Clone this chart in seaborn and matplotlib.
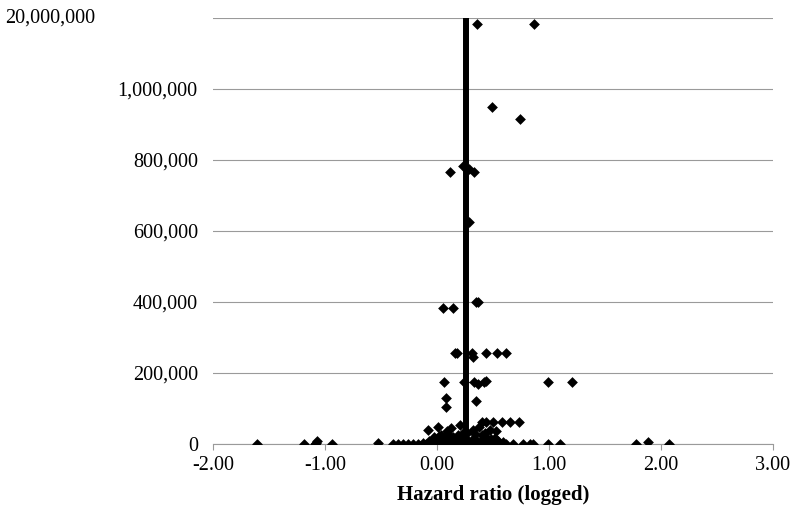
import matplotlib
matplotlib.use("Agg")
import matplotlib.pyplot as plt
import seaborn as sns
from matplotlib.ticker import FuncFormatter

# logged hazard ratio of each study
hazard_ratio = [
    # top of chart (axis break, ~20,000,000)
    0.36, 0.87,
    0.49, 0.74,
    0.115, 0.23, 0.285, 0.33,
    0.29,
    0.055, 0.14, 0.35, 0.37,
    0.16, 0.18, 0.31, 0.32, 0.44, 0.54, 0.62,
    0.06, 0.24, 0.33, 0.37, 0.42, 0.44, 0.99, 1.21,
    0.085, 0.077, 0.35,
    0.40, 0.44, 0.50, 0.58, 0.65, 0.73,
    -0.08, 0.01, 0.086, 0.13, 0.205, 0.235, 0.325, 0.38, 0.47, 0.53,
    0.52, -0.03, 0.04, 0.145, 0.40, 0.44,
    # left tail
    -1.61, -1.19, -1.09, -1.07, -1.08, -0.94, -0.53,
    -0.39, -0.35, -0.30, -0.26, -0.21, -0.17, -0.12,
    # dense cluster near zero
    -0.10, -0.06, -0.02, 0.02, 0.05, 0.08, 0.11, 0.14, 0.17, 0.20,
    0.23, 0.27, 0.30, 0.34, 0.37, 0.41, 0.45, 0.49, 0.53, 0.57,
    -0.07, -0.03, 0.00, 0.03, 0.07, 0.10, 0.13, 0.16, 0.19, 0.22,
    0.28, 0.31, 0.35, 0.39, 0.43, 0.47, 0.51, 0.55, 0.59,
    0.00, 0.06, 0.12, 0.18, 0.25, 0.33, 0.42, 0.48,
    -0.05, 0.04, 0.09, 0.15, 0.21, 0.29, 0.36, 0.45, 0.50,
    0.02, 0.10, 0.19, 0.27, 0.34, 0.43,
    # right tail
    0.62, 0.68, 0.77, 0.83, 0.855, 0.99, 1.10, 1.78, 1.89, 2.075,
]

# sample size (top points sit at the broken-axis position)
sample_size = [
    1183000, 1183000,
    950000, 915000,
    767000, 783000, 775000, 767000,
    626000,
    382000, 382000, 400000, 400000,
    255000, 255000, 255000, 246000, 255000, 255000, 255000,
    175000, 175000, 175000, 168000, 175000, 178000, 175000, 175000,
    130000, 105000, 122000,
    61000, 61000, 61000, 61000, 61000, 61000,
    39000, 49000, 37000, 44000, 53000, 30000, 39000, 49000, 39000, 35000,
    16000, 20000, 25000, 20000, 25000, 20000,
    0, 0, 0, 9000, 3000, 0, 3000,
    0, 0, 0, 0, 0, 0, 2000,
    0, 0, 0, 0, 0, 0, 0, 0, 0, 0,
    0, 0, 0, 0, 0, 0, 0, 0, 0, 0,
    8000, 6000, 9000, 7000, 10000, 8000, 12000, 6000, 9000, 11000,
    7000, 10000, 12000, 8000, 6000, 9000, 11000, 7000, 5000,
    15000, 14000, 17000, 13000, 16000, 14000, 12000, 15000,
    4000, 3000, 4000, 3000, 4000, 3000, 4000, 3000, 4000,
    22000, 28000, 24000, 30000, 27000, 31000,
    0, 0, 0, 0, 0, 0, 0, 0, 6000, 0,
]

pooled_hr = 0.26
x_ticks = [-2, -1, 0, 1, 2, 3]
y_ticks = [0, 200000, 400000, 600000, 800000, 1000000, 1200000]
top_label = "20,000,000"

fig = plt.figure(figsize=(7.95, 5.12), dpi=100)
ax = fig.add_axes([0.268, 0.133, 0.704, 0.832])

sns.scatterplot(x=hazard_ratio, y=sample_size, marker="D", color="black",
                s=30, linewidth=0, ax=ax, zorder=3)
ax.axvline(pooled_hr, color="black", lw=4.3, zorder=4)

ax.set_xlim(-2, 3)
ax.set_ylim(0, 1200000)
ax.set_xticks(x_ticks)
ax.set_yticks(y_ticks)
ax.xaxis.set_major_formatter(FuncFormatter(lambda v, p: f"{v:.2f}"))
ax.yaxis.set_major_formatter(
    FuncFormatter(lambda v, p: "" if v >= 1200000 else f"{int(v):,}"))

ax.grid(axis="y", color="#9a9a9a", lw=0.8)
ax.set_axisbelow(True)
for s in ["top", "right", "left"]:
    ax.spines[s].set_visible(False)
ax.spines["bottom"].set_color("#9a9a9a")
ax.spines["bottom"].set_linewidth(0.8)

ax.tick_params(axis="y", length=0, pad=11, labelsize=14.5)
ax.tick_params(axis="x", length=4, color="#9a9a9a", width=0.8, pad=5,
               labelsize=14.5)
for lab in ax.get_xticklabels() + ax.get_yticklabels():
    lab.set_fontfamily("Liberation Serif")

ax.set_xlabel("Hazard ratio (logged)", fontfamily="Liberation Serif",
              fontweight="bold", fontsize=15, labelpad=7)
ax.set_ylabel("")
fig.text(0.006, 1 - 18 / 512, top_label, fontfamily="Liberation Serif",
         fontsize=14.5, ha="left", va="center")

fig.savefig("out.png", dpi=100)
